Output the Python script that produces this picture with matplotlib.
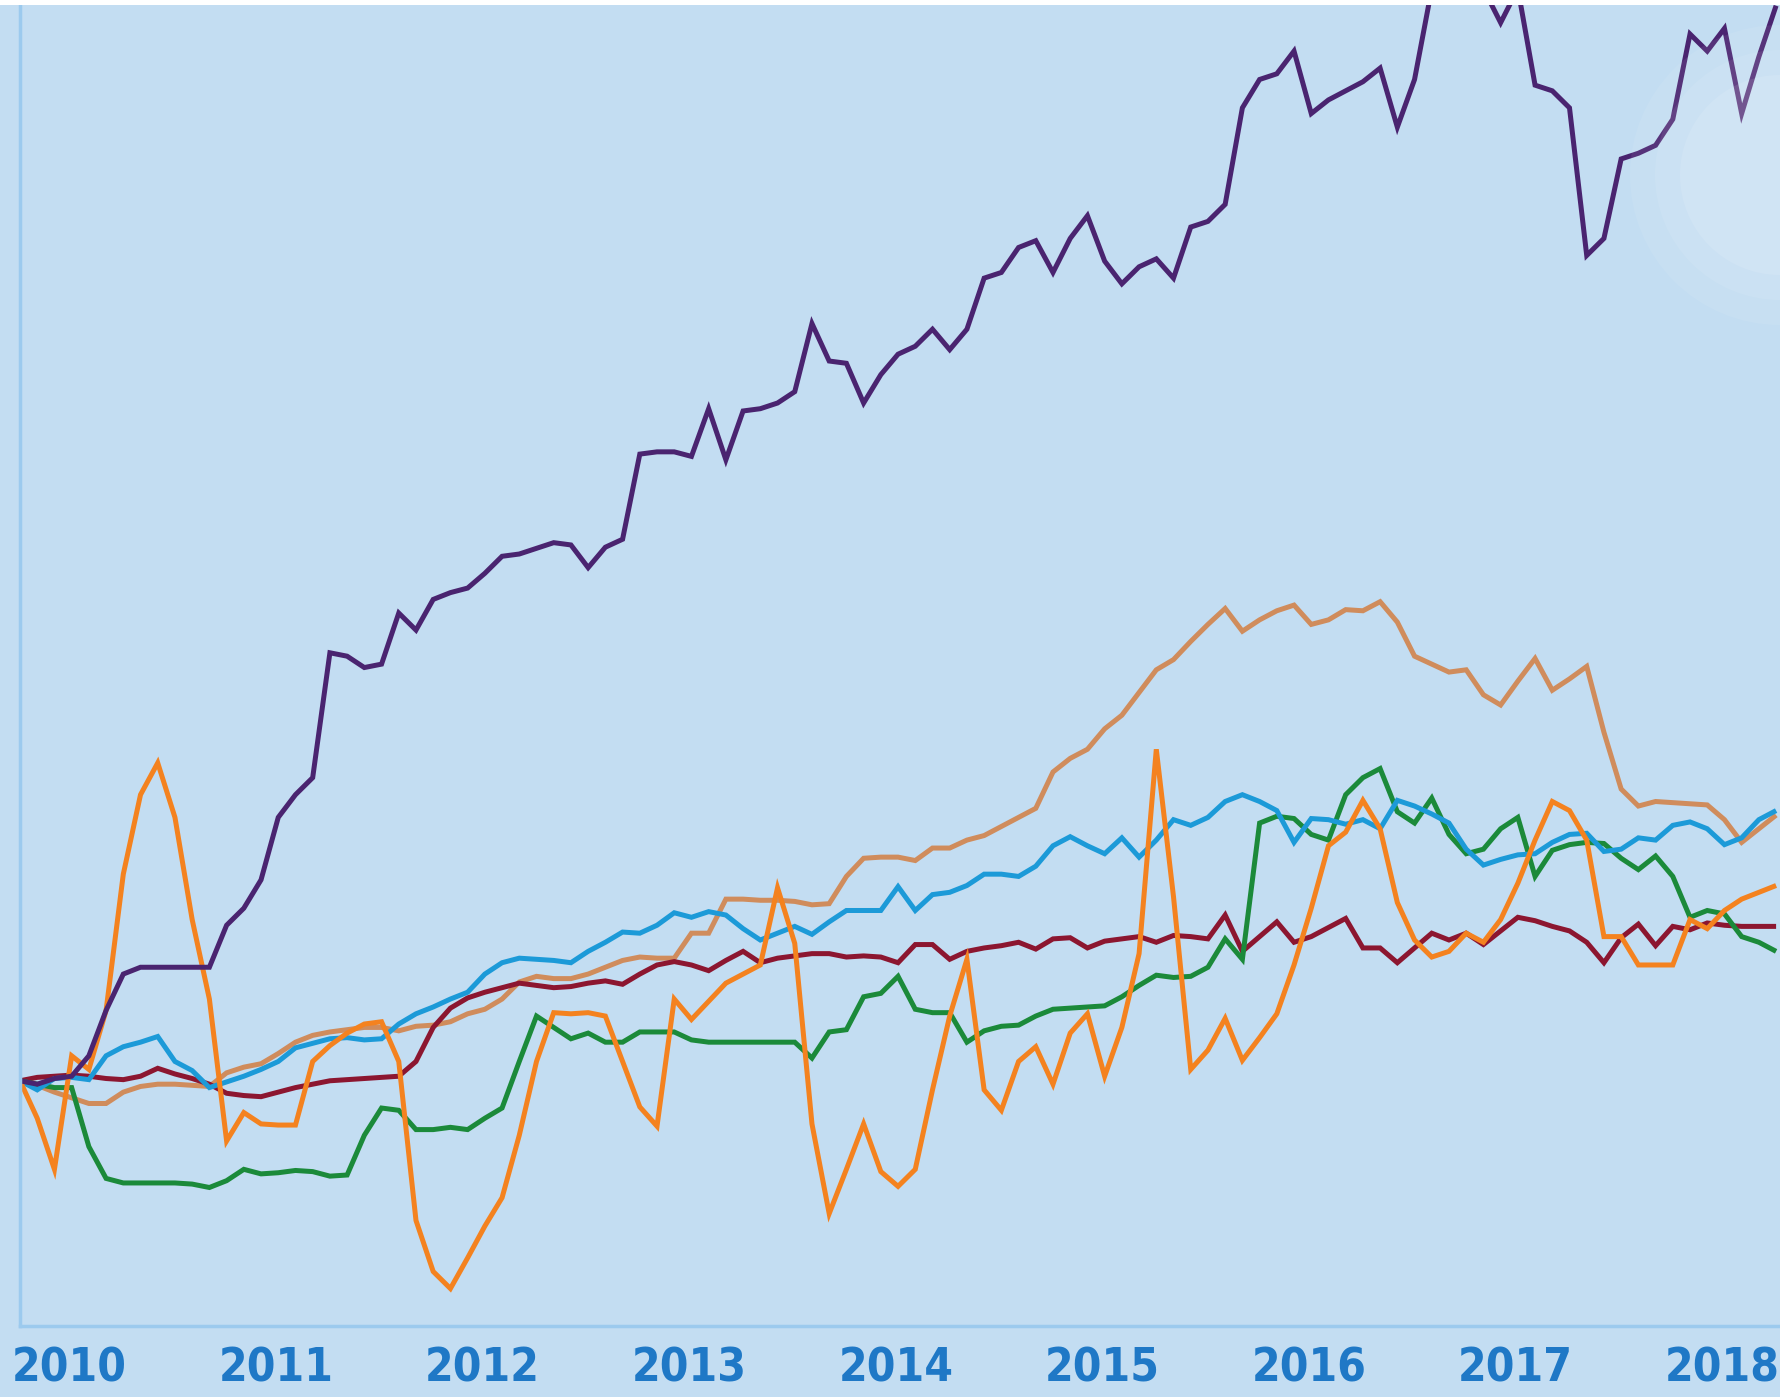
import numpy as np
import matplotlib
matplotlib.use("Agg")
import matplotlib.pyplot as plt
from matplotlib.patches import Rectangle, Ellipse
import matplotlib.transforms as mtransforms
from matplotlib import font_manager as fm

# ---- data: monthly values (cumulative change, %), Jan 2010 .. Jul 2018 ----
start_year = 2010
n_months = 103
x_years = start_year + np.arange(n_months) / 12.0

purple = [0, -0.3, 0.2, 0.4, 2.2, 6.2, 9.4, 10.0, 10.0, 10.0, 10.0, 10.0,
          13.7, 15.2, 17.7, 23.2, 25.2, 26.7, 37.7, 37.4, 36.4, 36.7, 41.2, 39.7,
          42.4, 43.0, 43.4, 44.7, 46.2, 46.4, 46.9, 47.4, 47.2, 45.2, 47.0, 47.7,
          55.2, 55.4, 55.4, 55.0, 59.2, 54.7, 59.0, 59.2, 59.7, 60.7, 66.7, 63.4,
          63.2, 59.7, 62.2, 64.0, 64.7, 66.2, 64.4, 66.2, 70.7, 71.2, 73.4, 74.0,
          71.2, 74.2, 76.2, 72.2, 70.2, 71.7, 72.4, 70.7, 75.2, 75.7, 77.2, 85.7,
          88.2, 88.7, 90.7, 85.2, 86.4, 87.2, 88.0, 89.2, 84.0, 88.2, 96.2, 98.2,
          98.7, 96.2, 93.2, 96.2, 87.7, 87.2, 85.7, 72.7, 74.2, 81.2, 81.7, 82.4,
          84.7, 92.2, 90.7, 92.7, 85.2, 90.2, 94.7]

tan = [0, -0.4, -1.0, -1.5, -2.0, -2.0, -1.0, -0.5, -0.3, -0.3, -0.4, -0.5,
       0.7, 1.2, 1.5, 2.4, 3.4, 4.0, 4.3, 4.5, 4.7, 4.7, 4.4, 4.8,
       4.9, 5.2, 5.9, 6.3, 7.2, 8.7, 9.2, 9.0, 9.0, 9.4, 10.0, 10.6,
       10.9, 10.8, 10.8, 13.0, 13.0, 16.0, 16.0, 15.9, 15.9, 15.8, 15.5, 15.6,
       18.0, 19.6, 19.7, 19.7, 19.4, 20.5, 20.5, 21.2, 21.6, 22.4, 23.2, 24.0,
       27.2, 28.4, 29.2, 31.0, 32.2, 34.2, 36.2, 37.1, 38.7, 40.2, 41.6, 39.6,
       40.6, 41.4, 41.9, 40.2, 40.6, 41.5, 41.4, 42.2, 40.4, 37.4, 36.7, 36.0,
       36.2, 34.0, 33.1, 35.2, 37.2, 34.4, 35.4, 36.5, 30.7, 25.7, 24.2, 24.6,
       24.5, 24.4, 24.3, 23.0, 21.0, 22.2, 23.4]

blue = [0, -0.8, 0.2, 0.3, 0.1, 2.2, 3.0, 3.4, 3.9, 1.7, 0.9, -0.6,
        -0.1, 0.4, 1.0, 1.7, 2.9, 3.3, 3.7, 3.8, 3.6, 3.7, 5.0, 5.9,
        6.5, 7.2, 7.8, 9.4, 10.4, 10.8, 10.7, 10.6, 10.4, 11.4, 12.2, 13.1,
        13.0, 13.7, 14.8, 14.4, 14.9, 14.6, 13.4, 12.4, 13.0, 13.6, 12.9, 14.0,
        15.0, 15.0, 15.0, 17.1, 15.0, 16.4, 16.6, 17.2, 18.2, 18.2, 18.0, 18.9,
        20.7, 21.5, 20.7, 20.0, 21.4, 19.7, 21.2, 23.0, 22.5, 23.2, 24.6, 25.2,
        24.6, 23.8, 21.0, 23.1, 23.0, 22.6, 23.0, 22.2, 24.7, 24.2, 23.5, 22.7,
        20.4, 19.0, 19.5, 19.9, 20.0, 21.0, 21.7, 21.8, 20.2, 20.4, 21.4, 21.2,
        22.5, 22.8, 22.2, 20.8, 21.4, 23.0, 23.8]

dark_red = [0, 0.3, 0.4, 0.5, 0.4, 0.2, 0.1, 0.4, 1.1, 0.6, 0.2, -0.3,
            -1.1, -1.3, -1.4, -1.0, -0.6, -0.3, 0.0, 0.1, 0.2, 0.3, 0.4, 1.7,
            4.7, 6.4, 7.3, 7.8, 8.2, 8.6, 8.4, 8.2, 8.3, 8.6, 8.8, 8.5,
            9.4, 10.2, 10.5, 10.2, 9.7, 10.6, 11.4, 10.4, 10.8, 11.0, 11.2, 11.2,
            10.9, 11.0, 10.9, 10.4, 12.0, 12.0, 10.7, 11.4, 11.7, 11.9, 12.2, 11.6,
            12.5, 12.6, 11.7, 12.3, 12.5, 12.7, 12.2, 12.8, 12.7, 12.5, 14.6, 11.4,
            12.7, 14.0, 12.2, 12.7, 13.5, 14.3, 11.7, 11.7, 10.4, 11.7, 13.0, 12.4,
            13.0, 12.0, 13.2, 14.4, 14.1, 13.6, 13.2, 12.2, 10.4, 12.6, 13.8, 11.9,
            13.6, 13.3, 13.9, 13.7, 13.6, 13.6, 13.6]

green = [0, -0.3, -0.6, -0.6, -5.8, -8.6, -9.0, -9.0, -9.0, -9.0, -9.1, -9.4,
         -8.8, -7.8, -8.2, -8.1, -7.9, -8.0, -8.4, -8.3, -4.8, -2.4, -2.6, -4.3,
         -4.3, -4.1, -4.3, -3.3, -2.4, 1.7, 5.7, 4.7, 3.7, 4.2, 3.4, 3.4,
         4.3, 4.3, 4.3, 3.6, 3.4, 3.4, 3.4, 3.4, 3.4, 3.4, 2.0, 4.3,
         4.5, 7.4, 7.7, 9.2, 6.3, 6.0, 6.0, 3.4, 4.4, 4.8, 4.9, 5.7,
         6.3, 6.4, 6.5, 6.6, 7.4, 8.4, 9.3, 9.1, 9.2, 10.0, 12.5, 10.7,
         22.7, 23.3, 23.1, 21.7, 21.2, 25.2, 26.7, 27.5, 23.7, 22.7, 24.9, 21.7,
         20.0, 20.4, 22.2, 23.2, 18.0, 20.3, 20.8, 21.0, 20.9, 19.6, 18.6, 19.8,
         18.0, 14.4, 15.0, 14.7, 12.7, 12.2, 11.4]

orange = [0, -3.3, -7.8, 2.2, 1.0, 6.2, 18.2, 25.2, 28.0, 23.2, 14.2, 7.2,
          -5.3, -2.8, -3.8, -3.9, -3.9, 1.7, 3.1, 4.2, 5.0, 5.2, 1.7, -12.3,
          -16.8, -18.3, -15.6, -12.8, -10.3, -4.8, 1.7, 6.0, 5.9, 6.0, 5.7, 1.7,
          -2.3, -4.0, 7.2, 5.4, 7.0, 8.6, 9.4, 10.2, 17.0, 12.1, -3.8, -11.7,
          -7.8, -3.8, -8.0, -9.3, -7.8, -0.8, 5.7, 10.7, -0.8, -2.6, 1.7, 3.0,
          -0.3, 4.2, 5.9, 0.4, 4.7, 11.2, 29.2, 16.2, 1.0, 2.7, 5.5, 1.8,
          3.8, 5.9, 10.2, 15.2, 20.7, 21.9, 24.7, 22.2, 15.7, 12.4, 10.9, 11.4,
          13.0, 12.2, 14.2, 17.4, 21.2, 24.6, 23.8, 21.2, 12.7, 12.7, 10.2, 10.2,
          10.2, 14.2, 13.4, 15.0, 16.0, 16.6, 17.2]

year_ticks = list(range(2010, 2019))
year_labels = [str(y) for y in year_ticks]

series = [
    (tan, "#d08c5c"),
    (dark_red, "#8c1630"),
    (green, "#1b8a3a"),
    (blue, "#1c9ad8"),
    (orange, "#f4821f"),
    (purple, "#4a2470"),
]

BG = "#c3ddf2"
SPINE = "#9ccaee"
TICK = "#1f78c6"

# pick a narrow bold font for the year labels
names = {f.name for f in fm.fontManager.ttflist}
cond_dejavu = any(f.name == "DejaVu Sans" and f.stretch in ("condensed", "semi-condensed", 600, 500)
                  for f in fm.fontManager.ttflist)
if "Liberation Sans Narrow" in names:
    tick_font = dict(family=["Liberation Sans Narrow", "DejaVu Sans"], fontsize=41)
elif cond_dejavu:
    tick_font = dict(family=["DejaVu Sans"], fontstretch="condensed", fontsize=33)
else:
    tick_font = dict(family=["Roboto", "DejaVu Sans"], fontsize=33)

W, H = 1780, 1397
fig = plt.figure(figsize=(W / 100, H / 100), dpi=100, facecolor=BG)
ax_left = 20 / W
ax_bottom = (H - 1326) / H
ax_top = (H - 5) / H
ax = fig.add_axes([ax_left, ax_bottom, 1 - ax_left, ax_top - ax_bottom])
ax.set_facecolor(BG)

for vals, col in series:
    ax.plot(x_years, vals, color=col, lw=3.6, solid_joinstyle="miter",
            solid_capstyle="butt")

ax.set_xlim(2010, 2010 + (W - 20) / 206.6)
ax.set_ylim((952 - 1168) / 10, (952 - 4.4) / 10)

for s in ["top", "right"]:
    ax.spines[s].set_visible(False)
for s in ["left", "bottom"]:
    ax.spines[s].set_color(SPINE)
    ax.spines[s].set_linewidth(2.5)

ax.set_yticks([])
ax.set_xticks(year_ticks)
ax.set_xticklabels(year_labels, fontweight="bold", color=TICK, ha="left", **tick_font)
ax.tick_params(axis="x", length=0, pad=15)
offset = mtransforms.ScaledTranslation(-8 / 100, 0, fig.dpi_scale_trans)
for lab in ax.get_xticklabels():
    lab.set_transform(lab.get_transform() + offset)

# soft glow at right edge
for r, a in [(150, 0.07), (125, 0.08), (100, 0.10)]:
    fig.patches.append(Ellipse((1.0, 1 - 175 / H), 2 * r / W, 2 * r / H,
                               transform=fig.transFigure, facecolor="white",
                               edgecolor="none", alpha=a, zorder=5))

# thin white strip at the top
fig.patches.append(Rectangle((0, ax_top), 1, 1 - ax_top, transform=fig.transFigure,
                             facecolor="white", edgecolor="none", zorder=6))

fig.savefig("out.png", dpi=100, facecolor=BG)
